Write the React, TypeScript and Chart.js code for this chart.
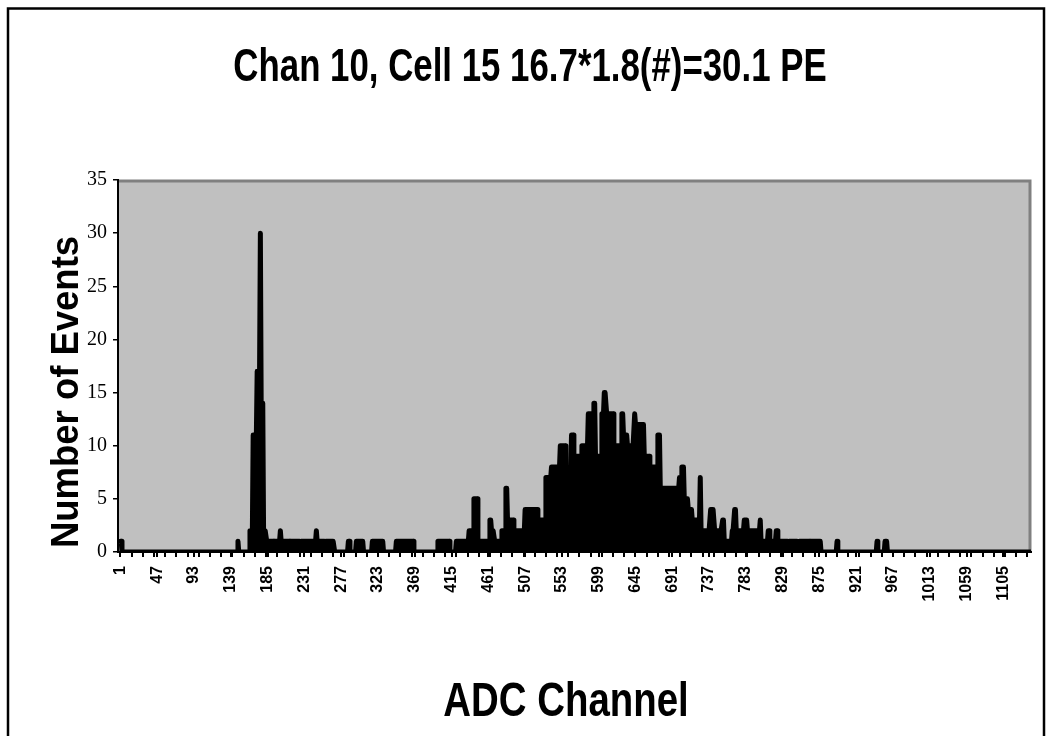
import React, { useEffect, useRef } from "react";
import { Chart, registerables } from "chart.js";

Chart.register(...registerables);

// ---------- data ----------
const TITLE = "Chan 10, Cell 15 16.7*1.8(#)=30.1 PE";
const X_TITLE = "ADC Channel";
const Y_TITLE = "Number of Events";

const CHANNEL_COUNT = 1140;
const X_MIN = -2;
const X_MAX = 1139.5;
const LABEL_EVERY = 46;
const TICK_EVERY = 14;
const Y_TICKS = [0, 5, 10, 15, 20, 25, 30, 35];

// non-zero histogram content: [first channel, last channel, events]
const runStart = [
  1, 148, 163, 167, 172, 176, 177, 180, 184, 194, 201, 202, 214, 227, 246, 247, 258,
  286, 296, 316, 346, 398, 421, 437, 443, 448, 463, 465, 469, 478, 483, 485, 493, 507,
  523, 533, 540, 551, 558, 565, 568, 578, 586, 593, 595, 603, 606, 609, 618, 628, 630,
  635, 644, 645, 656, 663, 673, 676, 700, 703, 706, 711, 716, 726, 727, 739, 744, 754,
  756, 766, 769, 771, 781, 785, 801, 802, 811, 813, 821, 823, 837, 850, 864, 897, 947, 957,
];
const runEnd = [
  2, 148, 166, 171, 175, 176, 179, 183, 192, 200, 201, 212, 225, 245, 246, 256, 268,
  287, 304, 329, 367, 412, 436, 442, 447, 462, 464, 468, 477, 482, 484, 492, 506, 522,
  532, 539, 550, 557, 564, 567, 577, 585, 592, 594, 602, 605, 608, 617, 627, 629, 634,
  643, 644, 655, 662, 672, 675, 699, 702, 705, 710, 715, 725, 726, 738, 743, 753, 755,
  765, 768, 770, 780, 784, 800, 801, 810, 812, 820, 822, 835, 848, 862, 876, 897, 947, 959,
];
const runEvents = [
  1, 1, 2, 11, 17, 30, 14, 2, 1, 1, 2, 1, 1, 1, 2, 1, 1,
  1, 1, 1, 1, 1, 1, 2, 5, 1, 3, 2, 1, 2, 6, 3, 2, 4,
  3, 7, 8, 10, 7, 11, 9, 10, 13, 14, 9, 13, 15, 13, 10, 13, 11,
  10, 13, 12, 9, 8, 11, 6, 7, 8, 5, 4, 3, 7, 2, 4, 2, 3,
  1, 2, 4, 2, 3, 2, 3, 1, 2, 1, 2, 1, 1, 1, 1, 1, 1, 1,
];

const channels: number[] = [];
for (let c = 1; c <= CHANNEL_COUNT; c++) channels.push(c);
const counts: number[] = new Array(CHANNEL_COUNT).fill(0);
runStart.forEach((s, k) => {
  for (let c = s; c <= runEnd[k]; c++) counts[c - 1] = runEvents[k];
});
const points = channels.map((c, i) => ({ x: c, y: counts[i] }));

// ---------- drawing helpers ----------
function drawText(
  ctx: CanvasRenderingContext2D,
  text: string,
  cx: number,
  cy: number,
  font: string,
  sAlong: number,
  rot: number
) {
  ctx.save();
  ctx.translate(cx, cy);
  ctx.rotate(rot);
  ctx.scale(sAlong, 1);
  ctx.font = font;
  ctx.fillStyle = "#000";
  ctx.textAlign = "center";
  ctx.textBaseline = "middle";
  ctx.fillText(text, 0, 0);
  ctx.restore();
}

const decor = {
  id: "decor",
  beforeDraw(chart: any) {
    const { ctx, chartArea: a } = chart;
    ctx.save();
    ctx.fillStyle = "#fff";
    ctx.fillRect(0, 0, chart.width, chart.height);
    // outer frame
    ctx.strokeStyle = "#000";
    ctx.lineWidth = 2.5;
    ctx.strokeRect(8, 8.5, 1036, 760);
    // plot area
    ctx.fillStyle = "#c0c0c0";
    ctx.fillRect(a.left, a.top, a.right - a.left, a.bottom - a.top);
    ctx.strokeStyle = "#808080";
    ctx.lineWidth = 3;
    ctx.beginPath();
    ctx.moveTo(a.left, a.top + 1);
    ctx.lineTo(a.right - 1, a.top + 1);
    ctx.lineTo(a.right - 1, a.bottom);
    ctx.stroke();
    ctx.restore();
  },
  afterDraw(chart: any) {
    const ctx = chart.ctx;
    drawText(ctx, TITLE, 530, 68, 'bold 46px "Liberation Sans"', 0.757, 0);
    drawText(ctx, X_TITLE, 566, 703, 'bold 48px "Liberation Sans"', 0.8, 0);
    drawText(ctx, Y_TITLE, 68, 392, 'bold 38px "Liberation Sans"', 0.96, -Math.PI / 2);
  },
};

export default function App() {
  const ref = useRef<HTMLCanvasElement | null>(null);
  useEffect(() => {
    if (!ref.current) return;
    const chart = new Chart(ref.current, {
      type: "line",
      data: {
        datasets: [
          {
            data: points,
            borderColor: "#000",
            backgroundColor: "#000",
            borderWidth: 5,
            borderJoinStyle: "round",
            borderCapStyle: "round",
            pointRadius: 0,
            tension: 0,
            fill: "origin",
          },
        ],
      },
      options: {
        animation: false,
        responsive: false,
        maintainAspectRatio: false,
        events: [],
        layout: { padding: { top: 180, left: 0, right: 16, bottom: 124 } },
        plugins: { legend: { display: false }, tooltip: { enabled: false }, title: { display: false } },
        scales: {
          x: {
            type: "linear",
            min: X_MIN,
            max: X_MAX,
            afterFit: (s: any) => {
              s.height = 60;
              s.paddingLeft = 0;
              s.paddingRight = 0;
            },
            afterBuildTicks: (s: any) => {
              const t: { value: number }[] = [];
              channels.forEach((c) => {
                const k = c - 1;
                if (k % TICK_EVERY === 0 || k % LABEL_EVERY === 0) t.push({ value: c });
              });
              s.ticks = t;
            },
            ticks: {
              autoSkip: false,
              maxRotation: 90,
              minRotation: 90,
              padding: 9,
              color: "#000",
              font: { family: "Liberation Sans", weight: "bold", size: 16 },
              callback: (v: any) => ((Number(v) - 1) % LABEL_EVERY === 0 ? String(v) : ""),
            },
            grid: { drawOnChartArea: false, drawTicks: true, tickLength: 5, color: "#000", lineWidth: 2 },
            border: { display: true, color: "#000", width: 2 },
          },
          y: {
            min: 0,
            max: 35,
            afterFit: (s: any) => {
              s.width = 118;
              s.paddingTop = 0;
              s.paddingBottom = 0;
            },
            afterBuildTicks: (s: any) => {
              s.ticks = Y_TICKS.map((v) => ({ value: v }));
            },
            ticks: {
              padding: 6,
              color: "#000",
              font: { family: "Liberation Serif", size: 20 },
            },
            grid: { drawOnChartArea: false, drawTicks: true, tickLength: 5, color: "#000", lineWidth: 1.5 },
            border: { display: true, color: "#000", width: 2 },
          },
        },
      },
      plugins: [decor],
    });
    return () => chart.destroy();
  }, []);
  return (
    <div style={{ position: "absolute", left: 0, top: 0, width: 1047, height: 736, overflow: "hidden" }}>
      <canvas ref={ref} width={1047} height={736} style={{ display: "block", width: 1047, height: 736 }} />
    </div>
  );
}
